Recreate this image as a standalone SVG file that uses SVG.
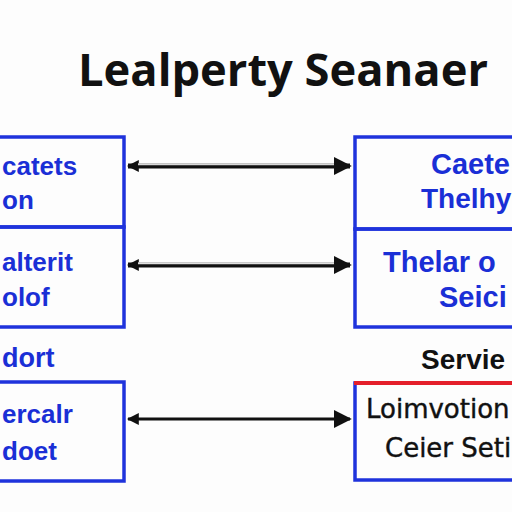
<svg xmlns="http://www.w3.org/2000/svg" width="512" height="512" viewBox="0 0 512 512">
<style>
.box{fill:none;stroke:#1f33dc;stroke-width:3.5}
.bt{font-family:"Liberation Sans",Arial,sans-serif;font-weight:bold;font-size:26px;fill:#1a2fd6}
.rt{font-family:"Liberation Sans",Arial,sans-serif;font-weight:bold;font-size:29px;fill:#1a2fd6}
.kt{font-family:"DejaVu Sans",sans-serif;font-size:26px;fill:#111;stroke:#111;stroke-width:0.4}
.kb{font-family:"Liberation Sans",Arial,sans-serif;font-weight:bold;font-size:28px;fill:#111}
.title{font-family:"Open Sans","DejaVu Sans",sans-serif;font-weight:bold;font-size:45px;fill:#111}
</style>
<defs>
<marker id="big" viewBox="0 0 10 10" refX="9" refY="5" markerWidth="18" markerHeight="18" orient="auto" markerUnits="userSpaceOnUse">
<path d="M0,0 L10,5 L0,10 z" fill="#111"/>
</marker>
<marker id="small" viewBox="0 0 10 10" refX="9" refY="5" markerWidth="12" markerHeight="12" orient="auto-start-reverse" markerUnits="userSpaceOnUse">
<path d="M0,0 L10,5 L0,10 z" fill="#111"/>
</marker>
</defs>
<rect width="512" height="512" fill="#fdfdfd"/>
<text class="title" x="78" y="86" textLength="410" lengthAdjust="spacingAndGlyphs">Lealperty Seanaer</text>

<g id="left1">
<rect class="box" x="-10" y="137" width="134" height="90"/>
<text class="bt" x="2" y="175">catets</text>
<text class="bt" x="2" y="209">on</text>
</g>
<g id="left2">
<rect class="box" x="-10" y="227" width="134" height="100"/>
<text class="bt" x="2" y="271">alterit</text>
<text class="bt" x="2" y="306">olof</text>
</g>
<g id="left-label">
<text class="bt" x="2" y="367" style="font-size:27px">dort</text>
</g>
<g id="left3">
<rect class="box" x="-10" y="382" width="134" height="99"/>
<text class="bt" x="2" y="423">ercalr</text>
<text class="bt" x="2" y="460">doet</text>
</g>

<g id="right1">
<rect class="box" x="355" y="137" width="170" height="92"/>
<text class="rt" x="431" y="174">Caete</text>
<text class="rt" x="421" y="208" style="font-size:28px">Thelhy</text>
</g>
<g id="right2">
<rect class="box" x="355" y="229" width="170" height="98"/>
<text class="rt" x="383" y="272">Thelar o</text>
<text class="rt" x="439" y="307">Seici</text>
</g>
<g id="right-label">
<text class="kb" x="421" y="369">Servie</text>
</g>
<g id="right3">
<rect class="box" x="355" y="383" width="170" height="97"/>
<line x1="354" y1="383" x2="512" y2="383" stroke="#e41f2a" stroke-width="4"/>
<text class="kt" x="366" y="418">Loimvotion</text>
<text class="kt" x="385" y="457">Ceier Seti</text>
</g>

<g id="connectors">
<line x1="128" y1="166" x2="350" y2="166" stroke="#111" stroke-width="5" marker-start="url(#small)" marker-end="url(#big)"/>
<line x1="138" y1="164.3" x2="334" y2="164.3" stroke="#d8d8d8" stroke-width="2"/>
<line x1="128" y1="265" x2="350" y2="265" stroke="#111" stroke-width="5" marker-start="url(#small)" marker-end="url(#big)"/>
<line x1="138" y1="263.3" x2="334" y2="263.3" stroke="#e0e0e0" stroke-width="2"/>
<line x1="128" y1="419" x2="350" y2="419" stroke="#111" stroke-width="3" marker-start="url(#small)" marker-end="url(#big)"/>
</g>
</svg>
